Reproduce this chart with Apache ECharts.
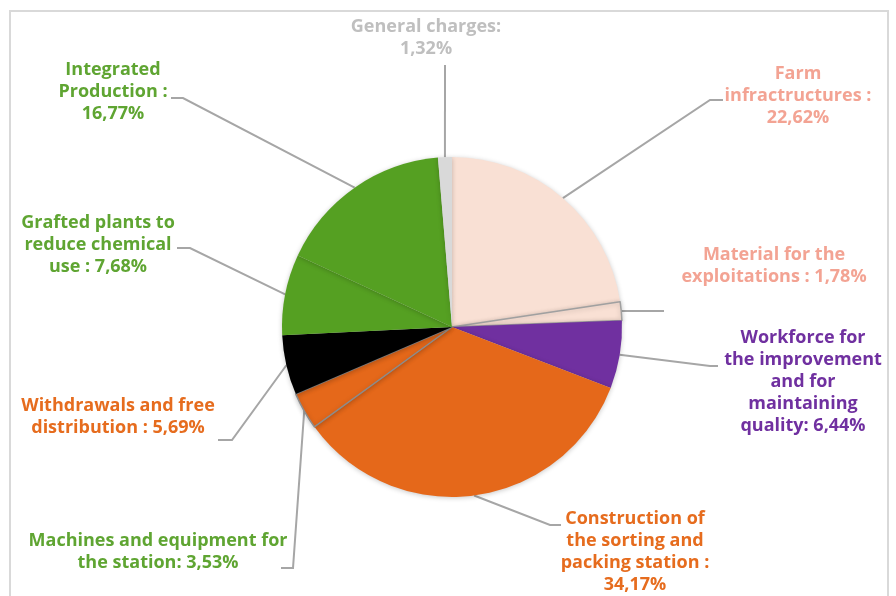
<!DOCTYPE html>
<html>
<head>
<meta charset="utf-8">
<script src="https://cdn.jsdelivr.net/npm/echarts@6/dist/echarts.min.js"></script>
<style>
  html, body { margin: 0; padding: 0; background: #fff; }
  #chart { width: 896px; height: 596px; }
</style>
</head>
<body>
<div id="chart"></div>
<script>
// Cost categories, clockwise from 12 o'clock
const categories = [
  'Farm infractructures',
  'Material for the exploitations',
  'Workforce for the improvement and for maintaining quality',
  'Construction of the sorting and packing station',
  'Machines and equipment for the station',
  'Withdrawals and free distribution',
  'Grafted plants to reduce chemical use',
  'Integrated Production',
  'General charges'
];
// Share of each category, in percent
const values = [22.62, 1.78, 6.44, 34.17, 3.53, 5.69, 7.68, 16.77, 1.32];
// Label text; {v} is replaced by the formatted value
const labelTexts = [
  'Farm\ninfractructures :\n{v}',
  'Material for the\nexploitations : {v}',
  'Workforce for\nthe improvement\nand for\nmaintaining\nquality: {v}',
  'Construction of\nthe sorting and\npacking station :\n{v}',
  'Machines and equipment for\nthe station: {v}',
  'Withdrawals and free\ndistribution : {v}',
  'Grafted plants to\nreduce chemical\nuse : {v}',
  'Integrated\nProduction :\n{v}',
  'General charges:\n{v}'
];

// Styles
const sliceColors = ['#F9E0D4', '#F9E0D4', '#7030A0', '#E5681A', '#E5681A', '#000000', '#55A022', '#55A022', '#D9D9D9'];
const sliceBorders = [null, '#A0A0A0', null, null, '#8C8C8C', null, null, null, null];
const labelColors = ['#F3A393', '#F3A393', '#7030A0', '#E66C1E', '#5FA532', '#E66C1E', '#5FA532', '#5FA532', '#BFBFBF'];

// Label placement: text centre and the bend/end of each leader line
const labelPlacement = [
  { x: 798, y: 96,  line: [[710, 100], [723, 100]] },
  { x: 774, y: 266, line: [[664, 311], [664, 311]] },
  { x: 803, y: 382, line: [[710, 366], [718, 366]] },
  { x: 635, y: 552, line: [[550, 525], [561, 525]] },
  { x: 158, y: 552, line: [[293, 568], [281, 568]] },
  { x: 118, y: 417, line: [[232, 440], [218, 440]] },
  { x: 98,  y: 245, line: [[190, 248], [177, 248]] },
  { x: 113, y: 92,  line: [[183, 98], [171, 98]] },
  { x: 426, y: 38,  line: [[445, 65], [445, 65]] }
];

const fmt = v => v.toFixed(2).replace('.', ',') + '%';

const seriesData = categories.map((name, i) => ({
  name: name,
  value: values[i],
  itemStyle: {
    color: sliceColors[i],
    borderColor: sliceBorders[i] || sliceColors[i],
    borderWidth: sliceBorders[i] ? 1.5 : 0
  },
  label: {
    color: labelColors[i],
    formatter: labelTexts[i].replace('{v}', fmt(values[i]))
  }
}));

const chart = echarts.init(document.getElementById('chart'));
chart.setOption({
  animation: false,
  backgroundColor: '#ffffff',
  graphic: [{
    type: 'rect',
    shape: { x: 10, y: 11, width: 878, height: 620 },
    style: { fill: 'none', stroke: '#D9D9D9', lineWidth: 2 },
    silent: true
  }],
  series: [{
    type: 'pie',
    center: [452, 327],
    radius: 170,
    startAngle: 90,
    clockwise: true,
    avoidLabelOverlap: false,
    itemStyle: {
      shadowBlur: 5,
      shadowColor: 'rgba(0,0,0,0.22)',
      shadowOffsetY: 1
    },
    label: {
      show: true,
      position: 'outside',
      fontFamily: '"Open Sans", Lato, sans-serif',
      fontWeight: 'bold',
      fontSize: 18,
      lineHeight: 22,
      align: 'center'
    },
    labelLine: {
      show: true,
      length: 20,
      length2: 10,
      lineStyle: { color: '#A6A6A6', width: 2 }
    },
    labelLayout: function (params) {
      const p = labelPlacement[params.dataIndex];
      const start = params.labelLinePoints ? params.labelLinePoints[0] : null;
      const out = {
        x: p.x,
        y: p.y,
        align: 'center',
        verticalAlign: 'middle'
      };
      if (start) {
        out.labelLinePoints = [start, p.line[0], p.line[1]];
      }
      return out;
    },
    data: seriesData
  }]
});
</script>
</body>
</html>
